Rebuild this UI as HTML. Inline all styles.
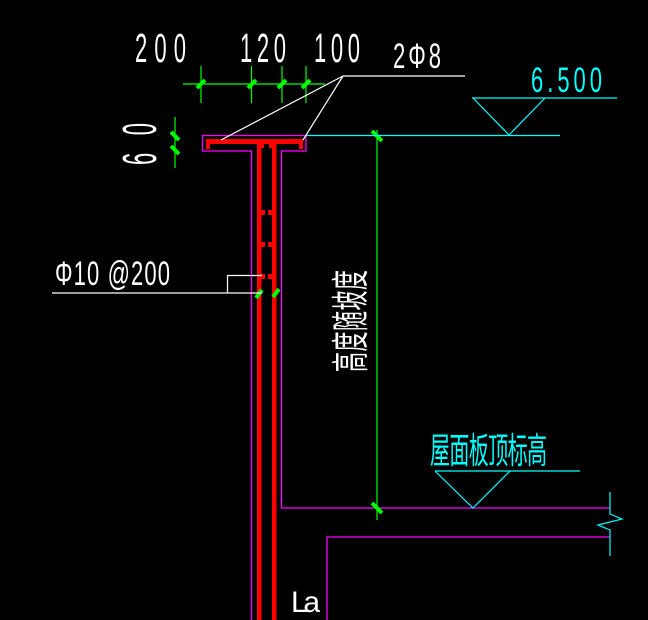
<!DOCTYPE html>
<html><head><meta charset="utf-8"><style>
html,body{margin:0;padding:0;background:#000;}
svg{display:block;}
text{font-family:"Liberation Sans Narrow","Liberation Sans","Noto Sans CJK SC",sans-serif;font-weight:normal;}
</style></head><body>
<svg width="648" height="620" viewBox="0 0 648 620" xmlns="http://www.w3.org/2000/svg">
<rect width="648" height="620" fill="#000"/>
<g stroke="#ff00ff" stroke-width="1.3" fill="none">
<polyline points="251.5,620 251.5,151 202.5,151 202.5,135.5 306,135.5 306,151 281.5,151 281.5,508 610,508"/>
<polyline points="327,620 327,537 610,537"/>
</g>
<g fill="#ff0000">
<rect x="257" y="140" width="4.5" height="480"/>
<rect x="272" y="140" width="4.5" height="480"/>
<rect x="206" y="139" width="97" height="5"/>
<rect x="206" y="139" width="4" height="10"/>
<rect x="299" y="139" width="4" height="10"/>
<rect x="261" y="144" width="3" height="4"/>
<rect x="269" y="144" width="3" height="4"/>
<rect x="261" y="210" width="4" height="5"/><rect x="268" y="210" width="4" height="5"/>
<rect x="261" y="242" width="4" height="5"/><rect x="268" y="242" width="4" height="5"/>
<rect x="261" y="274" width="4" height="5"/><rect x="268" y="274" width="4" height="5"/>
</g>
<g stroke="#00ff00" stroke-width="1.2">
<line x1="183" y1="84" x2="325" y2="84"/>
<line x1="201" y1="66" x2="201" y2="103"/>
<line x1="251.5" y1="66" x2="251.5" y2="103"/>
<line x1="282" y1="66" x2="282" y2="103"/>
<line x1="306" y1="66" x2="306" y2="103"/>
<line x1="175" y1="117" x2="175" y2="168"/>
<line x1="377" y1="130" x2="377" y2="520"/>
</g>
<g stroke="#00ff00" stroke-width="4">
<line x1="197" y1="88" x2="205" y2="80"/>
<line x1="248" y1="88" x2="256" y2="80"/>
<line x1="278" y1="88" x2="286" y2="80"/>
<line x1="302" y1="88" x2="310" y2="80"/>
<line x1="171" y1="132" x2="179" y2="140"/>
<line x1="171" y1="146" x2="179" y2="154"/>
<line x1="372" y1="131" x2="382" y2="141"/>
<line x1="372" y1="503" x2="382" y2="513"/>
<line x1="256" y1="298" x2="262" y2="290"/>
<line x1="273" y1="297" x2="279" y2="289"/>
</g>
<g stroke="#00ffff" stroke-width="1.2" fill="none">
<line x1="306" y1="135.5" x2="560" y2="135.5"/>
<line x1="472" y1="98" x2="617" y2="98"/>
<polyline points="473,98 509,135 545,98"/>
<line x1="435" y1="471" x2="580" y2="471"/>
<polyline points="435,471 473,508 510,471"/>
<polyline points="610,492 610,514 622,519 598,525 610,530 610,556"/>
</g>
<g stroke="#fff" stroke-width="1.2" fill="none">
<line x1="343" y1="76" x2="465" y2="76"/>
<line x1="343" y1="76" x2="221" y2="140"/>
<line x1="343" y1="76" x2="303" y2="140"/>
<line x1="52" y1="293" x2="262" y2="293"/>
<polyline points="227.5,293 227.5,275.5 262,275.5"/>
</g>
<g fill="#fff" font-size="22">
<text transform="translate(135,62) scale(1,1.85)" textLength="51" lengthAdjust="spacing">200</text>
<text transform="translate(240,62) scale(1,1.85)" textLength="46" lengthAdjust="spacing">120</text>
<text transform="translate(314,62) scale(1,1.85)" textLength="46" lengthAdjust="spacing">100</text>
<text transform="translate(393,68) scale(1,1.6)" textLength="48" lengthAdjust="spacing">2Φ8</text>
<text transform="translate(55,285) scale(1,1.55)" textLength="115" lengthAdjust="spacing">Φ10 @200</text>
<text transform="translate(156,165) rotate(-90) scale(1,2.2)" textLength="42" lengthAdjust="spacing">60</text>
<text x="291" y="612" font-size="30" textLength="29">La</text>
</g>
<text fill="#fff" font-size="20" transform="translate(364,372) rotate(-90) scale(1,1.9)" textLength="102">高度随坡度</text>
<text fill="#00ffff" font-size="20" transform="translate(430,463) scale(1,1.8)" textLength="117">屋面板顶标高</text>
<text fill="#00ffff" font-size="22" transform="translate(531,92) scale(1,1.6)" textLength="71" lengthAdjust="spacing">6.500</text>
</svg>
</body></html>
